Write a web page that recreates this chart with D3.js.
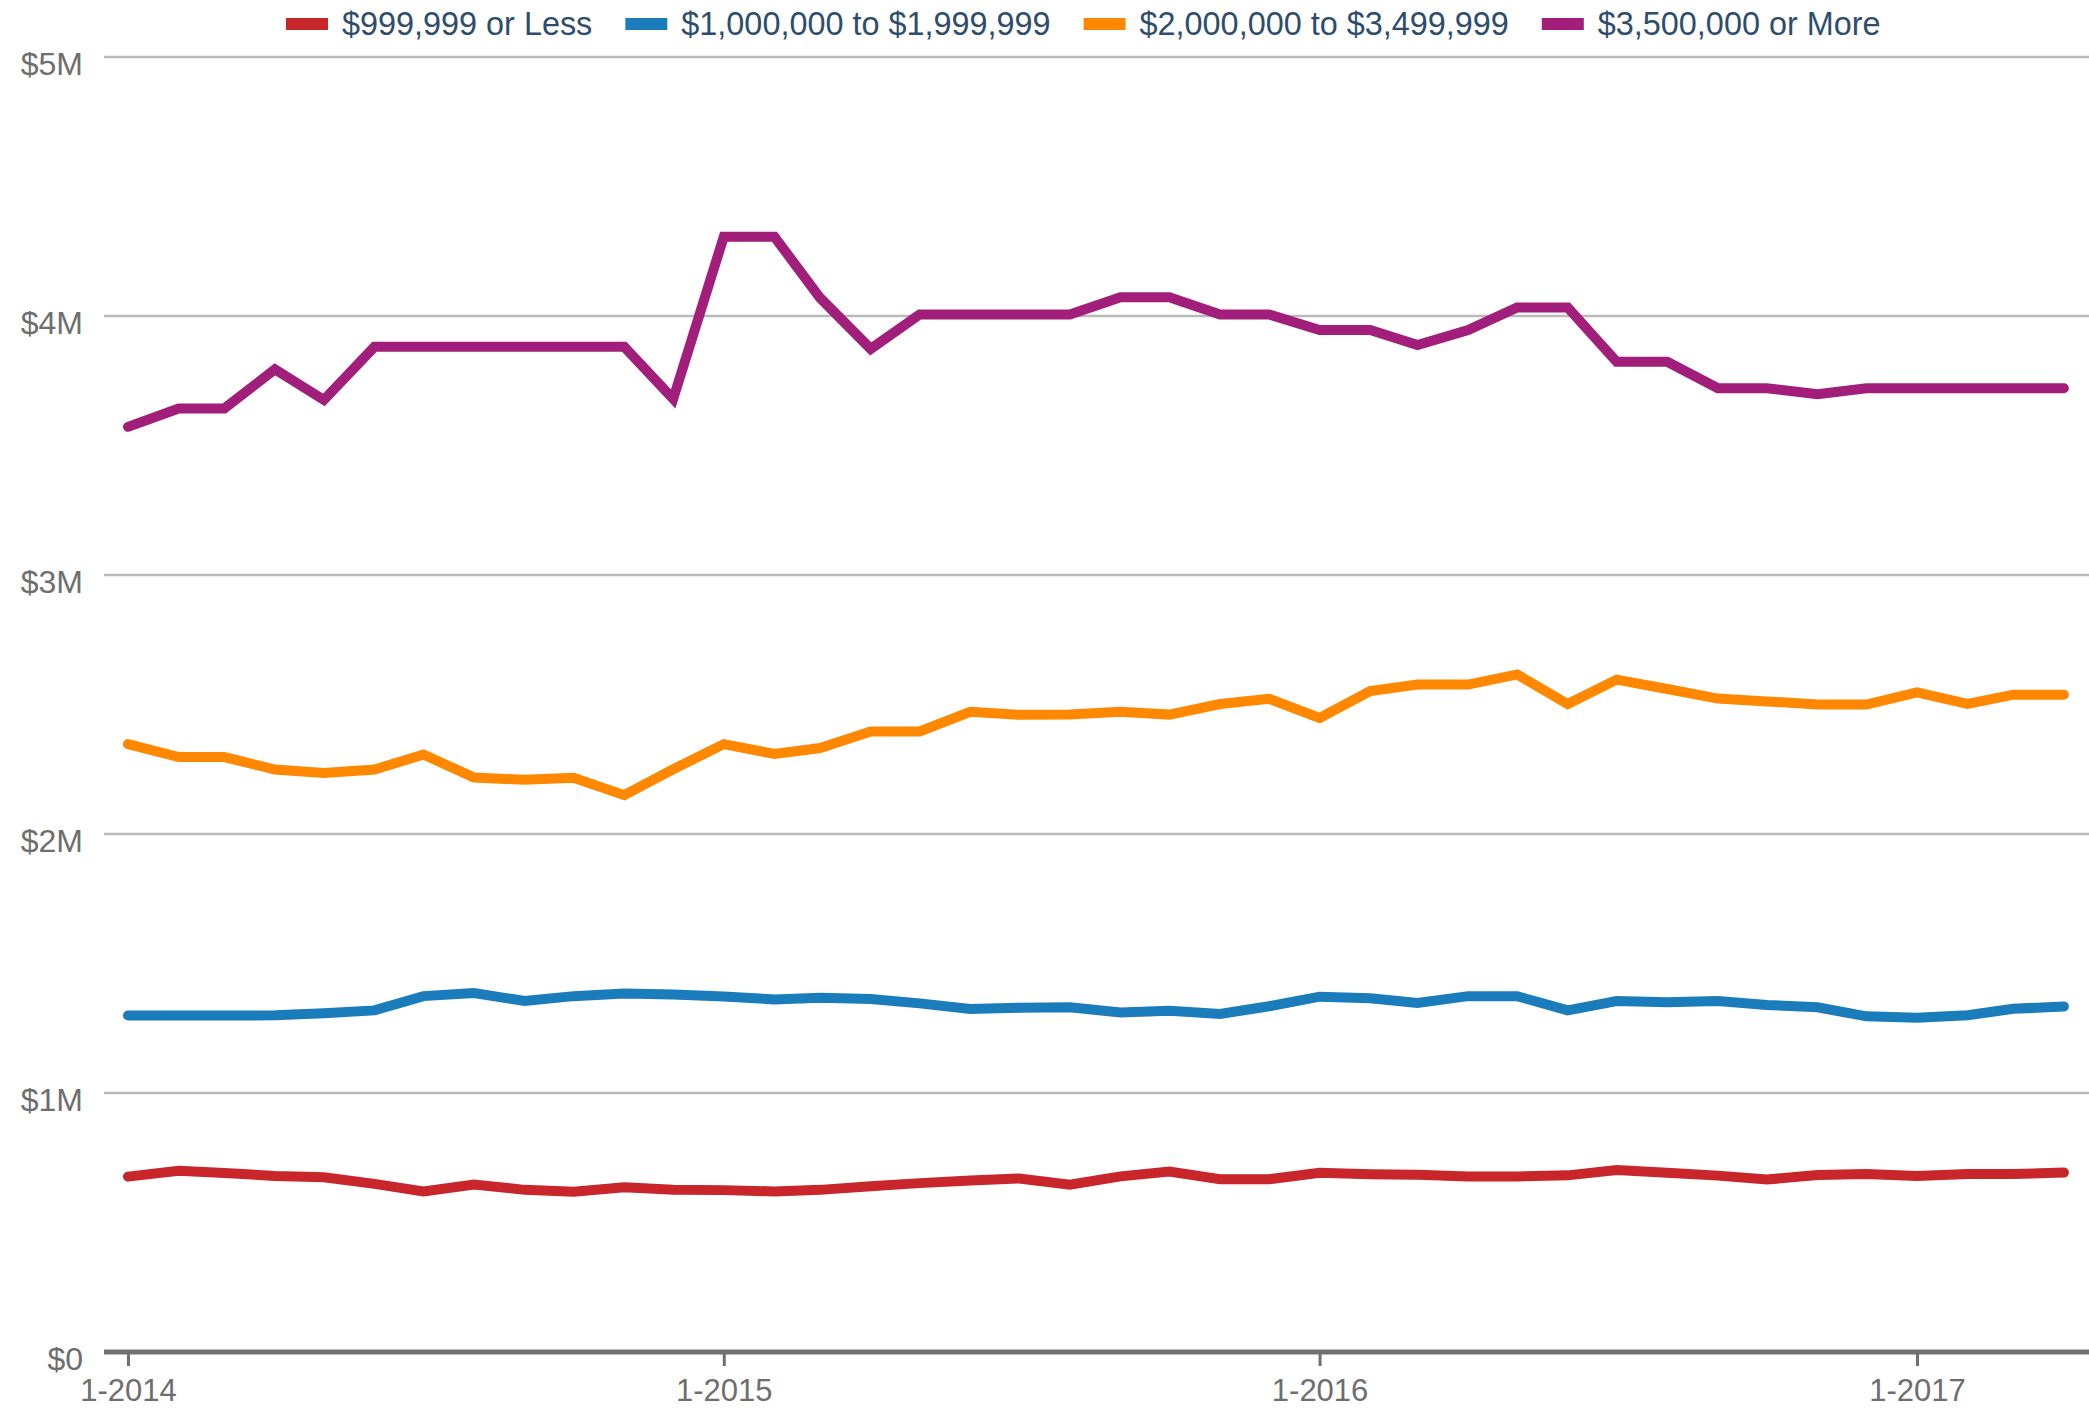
<!DOCTYPE html>
<html>
<head>
<meta charset="utf-8">
<script src="https://cdn.jsdelivr.net/npm/d3@7"></script>
<style>
  body { margin: 0; background: #fff; }
  text { font-family: "Liberation Sans", Arial, sans-serif; }
</style>
</head>
<body>
<div id="chart"></div>
<script>

// monthly median prices, $ millions, 1-2014 .. 4-2017
var months = [
  "2014-01","2014-02","2014-03","2014-04","2014-05","2014-06","2014-07","2014-08","2014-09","2014-10","2014-11","2014-12",
  "2015-01","2015-02","2015-03","2015-04","2015-05","2015-06","2015-07","2015-08","2015-09","2015-10","2015-11","2015-12",
  "2016-01","2016-02","2016-03","2016-04","2016-05","2016-06","2016-07","2016-08","2016-09","2016-10","2016-11","2016-12",
  "2017-01","2017-02","2017-03","2017-04"
];

var under1M = [
  0.677, 0.700, 0.691, 0.680, 0.675, 0.649, 0.620, 0.647, 0.626, 0.619, 0.636, 0.626,
  0.625, 0.620, 0.626, 0.640, 0.652, 0.662, 0.670, 0.646, 0.678, 0.697, 0.667, 0.667,
  0.692, 0.686, 0.684, 0.678, 0.678, 0.682, 0.703, 0.692, 0.681, 0.666, 0.683, 0.687,
  0.680, 0.687, 0.687, 0.693
];

var from1Mto2M = [
  1.299, 1.299, 1.299, 1.300, 1.308, 1.319, 1.374, 1.386, 1.355, 1.374, 1.384, 1.380,
  1.373, 1.361, 1.368, 1.363, 1.346, 1.324, 1.329, 1.331, 1.311, 1.318, 1.305, 1.335,
  1.372, 1.366, 1.348, 1.374, 1.374, 1.319, 1.355, 1.350, 1.355, 1.340, 1.331, 1.296,
  1.291, 1.300, 1.325, 1.334
];

var from2Mto35M = [
  2.347, 2.297, 2.297, 2.249, 2.236, 2.249, 2.307, 2.218, 2.209, 2.217, 2.150, 2.250,
  2.347, 2.309, 2.332, 2.396, 2.396, 2.472, 2.460, 2.461, 2.472, 2.461, 2.502, 2.522,
  2.448, 2.552, 2.577, 2.577, 2.616, 2.502, 2.596, 2.560, 2.523, 2.512, 2.500, 2.500,
  2.547, 2.502, 2.538, 2.538
];

var over35M = [
  3.572, 3.643, 3.643, 3.794, 3.676, 3.881, 3.881, 3.881, 3.881, 3.881, 3.881, 3.680,
  4.306, 4.306, 4.070, 3.873, 4.006, 4.006, 4.006, 4.006, 4.072, 4.072, 4.006, 4.006,
  3.946, 3.946, 3.888, 3.946, 4.033, 4.033, 3.823, 3.823, 3.721, 3.721, 3.698, 3.721,
  3.721, 3.721, 3.721, 3.721
];

var seriesNames = ["$999,999 or Less", "$1,000,000 to $1,999,999", "$2,000,000 to $3,499,999", "$3,500,000 or More"];
var seriesColors = ["#c8262b", "#1a7cbb", "#ff8800", "#a21e7b"];
var yTicks = [0, 1, 2, 3, 4, 5];
var xTicks = ["2014-01", "2015-01", "2016-01", "2017-01"];

var width = 2089,
    height = 1410;

var plotLeft = 104,
    plotRight = width,
    plotTop = 57,
    plotBottom = 1352;

var parseMonth = d3.timeParse("%Y-%m");

var series = [under1M, from1Mto2M, from2Mto35M, over35M].map(function(vals, i){
  return {
    name: seriesNames[i],
    color: seriesColors[i],
    values: vals.map(function(v, j){ return { date: parseMonth(months[j]), value: v }; })
  };
});

var svg = d3.select("#chart").append("svg")
  .attr("width", width)
  .attr("height", height);

var xScale = d3.scaleTime()
  .domain([parseMonth("2014-01"), parseMonth("2017-01")])
  .range([128, 1917]);

var yScale = d3.scaleLinear()
  .domain([0, 5])
  .range([plotBottom, plotTop]);

// gridlines + y labels
var grid = svg.append("g").attr("class", "grid");

grid.selectAll("line")
  .data(yTicks.filter(function(d){ return d > 0; }))
  .enter().append("line")
  .attr("x1", plotLeft)
  .attr("x2", plotRight)
  .attr("y1", function(d){ return yScale(d); })
  .attr("y2", function(d){ return yScale(d); })
  .attr("stroke", "#bababa")
  .attr("stroke-width", 2.5);

grid.selectAll("text")
  .data(yTicks)
  .enter().append("text")
  .attr("x", 83)
  .attr("y", function(d){ return yScale(d) + 18; })
  .attr("text-anchor", "end")
  .attr("fill", "#6e6e6e")
  .style("font-size", "32px")
  .text(function(d){ return d === 0 ? "$0" : "$" + d + "M"; });

// x axis
var xAxis = d3.axisBottom(xScale)
  .tickValues(xTicks.map(parseMonth))
  .tickSize(14)
  .tickPadding(13)
  .tickFormat(function(d){ return "1-" + d.getFullYear(); });

var xg = svg.append("g")
  .attr("class", "x axis")
  .attr("transform", "translate(0," + plotBottom + ")")
  .call(xAxis);

xg.select(".domain").remove();
xg.selectAll(".tick line")
  .attr("stroke", "#707070")
  .attr("stroke-width", 3);
xg.selectAll(".tick text")
  .attr("fill", "#6e6e6e")
  .style("font-size", "31px")
  .style("font-family", "'Liberation Sans', Arial, sans-serif");

svg.append("line")
  .attr("x1", plotLeft)
  .attr("x2", plotRight)
  .attr("y1", plotBottom)
  .attr("y2", plotBottom)
  .attr("stroke", "#707070")
  .attr("stroke-width", 5);

// lines
var line = d3.line()
  .x(function(d){ return xScale(d.date); })
  .y(function(d){ return yScale(d.value); });

svg.append("g").attr("class", "lines")
  .selectAll("path")
  .data(series)
  .enter().append("path")
  .attr("d", function(d){ return line(d.values); })
  .attr("fill", "none")
  .attr("stroke", function(d){ return d.color; })
  .attr("stroke-width", 10)
  .attr("stroke-linecap", "round")
  .attr("stroke-linejoin", "miter");

// legend
var legend = svg.append("g").attr("class", "legend");
var lx = 286;

series.forEach(function(s){
  legend.append("rect")
    .attr("x", lx)
    .attr("y", 18)
    .attr("width", 42)
    .attr("height", 12)
    .attr("fill", s.color);

  var t = legend.append("text")
    .attr("x", lx + 56)
    .attr("y", 35)
    .attr("fill", "#2d4d6d")
    .style("font-size", "32.4px")
    .text(s.name);

  lx = lx + 56 + t.node().getComputedTextLength() + 33;
});

</script>
</body>
</html>
